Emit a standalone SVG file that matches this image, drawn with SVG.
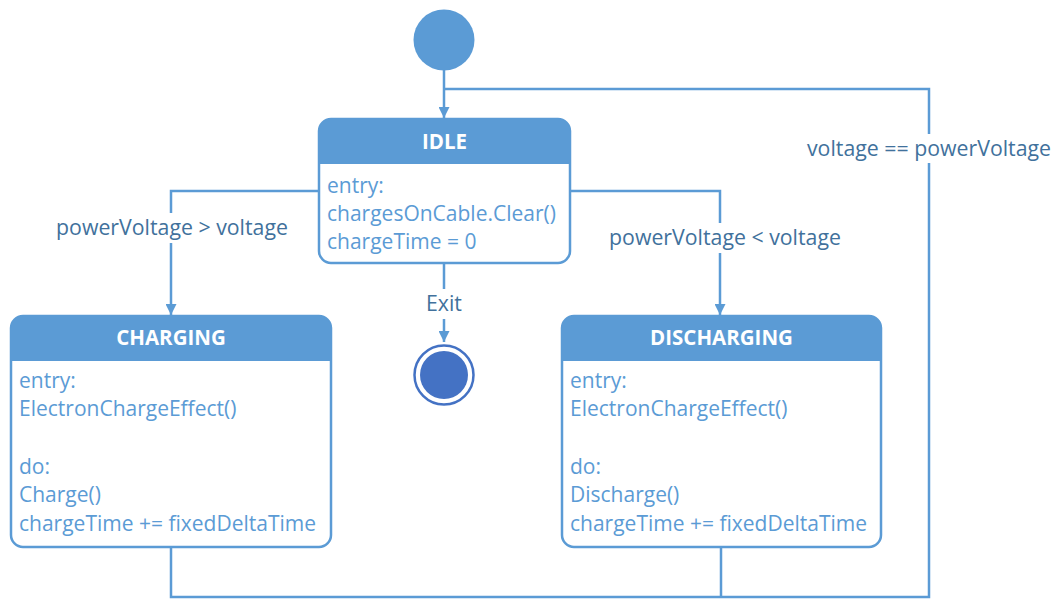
<svg xmlns="http://www.w3.org/2000/svg" width="1056" height="599" viewBox="0 0 1056 599">
  <style>
    .wire { fill: none; stroke: #5B9BD5; stroke-width: 2.5; }
    .box { fill: #FFFFFF; stroke: #5B9BD5; stroke-width: 2.5; }
    .head { fill: #5B9BD5; }
    .title { font-family: "Open Sans", "Liberation Sans", sans-serif; font-size: 20.5px; font-weight: bold; fill: #FFFFFF; text-anchor: middle; }
    .body { font-family: "Open Sans", "Liberation Sans", sans-serif; font-size: 21px; fill: #5B9BD5; }
    .lbl { font-family: "Open Sans", "Liberation Sans", sans-serif; font-size: 21.3px; fill: #41719C; text-anchor: middle; }
    .lblbg { fill: #FFFFFF; }
  </style>
  <defs>
    <marker id="arrow" viewBox="0 0 10 10" refX="10" refY="5" markerWidth="4.4" markerHeight="4.4" markerUnits="strokeWidth" orient="auto">
      <path d="M0,0 L10,5 L0,10 Z" fill="#5B9BD5"/>
    </marker>
  </defs>
  <rect width="1056" height="599" fill="#FFFFFF"/>

  <!-- transitions -->
  <g id="connectors">
    <path class="wire" d="M444,70 L444,118" marker-end="url(#arrow)"/>
    <path class="wire" d="M171,547 L171,597 L929,597 L929,89 L444,89"/>
    <path class="wire" d="M721,547 L721,597"/>
    <path class="wire" d="M319,191 L171,191 L171,315" marker-end="url(#arrow)"/>
    <path class="wire" d="M570,191 L720,191 L720,315" marker-end="url(#arrow)"/>
    <path class="wire" d="M444,263 L444,342" marker-end="url(#arrow)"/>
    <rect class="lblbg" x="50" y="213" width="244" height="30"/>
    <text class="lbl" x="172" y="235">powerVoltage &gt; voltage</text>
    <rect class="lblbg" x="604" y="223" width="242" height="30"/>
    <text class="lbl" x="725" y="245">powerVoltage &lt; voltage</text>
    <rect class="lblbg" x="802" y="134" width="252" height="29"/>
    <text class="lbl" x="929" y="156">voltage == powerVoltage</text>
    <rect class="lblbg" x="420" y="289" width="48" height="30"/>
    <text class="lbl" x="444" y="311">Exit</text>
  </g>

  <!-- initial pseudostate -->
  <g id="initial">
    <circle cx="444" cy="40" r="30.5" fill="#5B9BD5"/>
  </g>

  <!-- final state -->
  <g id="final">
    <circle cx="444" cy="375" r="29.5" fill="#FFFFFF" stroke="#4472C4" stroke-width="2.5"/>
    <circle cx="444" cy="375" r="24" fill="#4472C4"/>
  </g>

  <g id="idle">
    <rect class="box" x="319" y="119" width="251" height="144" rx="12"/>
    <path class="head" d="M319,164 L319,131 A12,12 0 0 1 331,119 L558,119 A12,12 0 0 1 570,131 L570,164 Z"/>
    <text class="title" x="444.5" y="149">IDLE</text>
    <text class="body" x="327" y="193">entry:</text>
    <text class="body" x="327" y="221">chargesOnCable.Clear()</text>
    <text class="body" x="327" y="249">chargeTime = 0</text>
  </g>

  <g id="charging">
    <rect class="box" x="11" y="316" width="320" height="231" rx="12"/>
    <path class="head" d="M11,361 L11,328 A12,12 0 0 1 23,316 L319,316 A12,12 0 0 1 331,328 L331,361 Z"/>
    <text class="title" x="171" y="345">CHARGING</text>
    <text class="body" x="19" y="388">entry:</text>
    <text class="body" x="19" y="416">ElectronChargeEffect()</text>
    <text class="body" x="19" y="474">do:</text>
    <text class="body" x="19" y="502">Charge()</text>
    <text class="body" x="19" y="531">chargeTime += fixedDeltaTime</text>
  </g>

  <g id="discharging">
    <rect class="box" x="562" y="316" width="319" height="231" rx="12"/>
    <path class="head" d="M562,361 L562,328 A12,12 0 0 1 574,316 L869,316 A12,12 0 0 1 881,328 L881,361 Z"/>
    <text class="title" x="721.5" y="345">DISCHARGING</text>
    <text class="body" x="570" y="388">entry:</text>
    <text class="body" x="570" y="416">ElectronChargeEffect()</text>
    <text class="body" x="570" y="474">do:</text>
    <text class="body" x="570" y="502">Discharge()</text>
    <text class="body" x="570" y="531">chargeTime += fixedDeltaTime</text>
  </g>
</svg>
